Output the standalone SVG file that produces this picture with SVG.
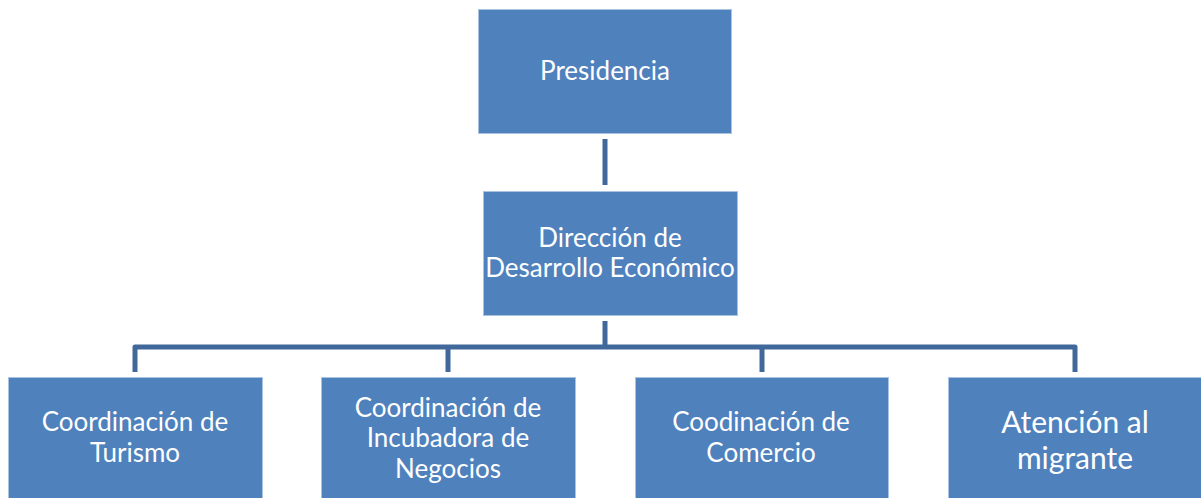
<svg xmlns="http://www.w3.org/2000/svg" width="1201" height="498" viewBox="0 0 1201 498">
<style>
.box{fill:#4F81BD;stroke:#A9C3E3;stroke-width:1}
.t{fill:#FFFFFF;font-family:Lato,"Open Sans","Liberation Sans",sans-serif;font-size:26px;text-anchor:middle}
.big{font-size:30px}
.c{fill:none;stroke:#41689A;stroke-width:5;stroke-linejoin:round}
</style>
<rect width="1201" height="498" fill="#FFFFFF"/>
<g id="connectors">
<line class="c" x1="605" y1="139" x2="605" y2="185"/>
<line class="c" x1="605" y1="321" x2="605" y2="347"/>
<polyline class="c" points="135,372 135,347 1075,347 1075,372"/>
<line class="c" x1="448" y1="347" x2="448" y2="372"/>
<line class="c" x1="762" y1="347" x2="762" y2="372"/>
</g>
<g id="presidencia">
<rect class="box" x="478.5" y="9.5" width="253" height="124"/>
<text class="t" x="605" y="80">Presidencia</text>
</g>
<g id="direccion">
<rect class="box" x="483.5" y="191.5" width="254" height="124"/>
<text class="t" x="610" y="247">Dirección de</text>
<text class="t" x="610" y="277">Desarrollo Económico</text>
</g>
<g id="turismo">
<rect class="box" x="8.5" y="377.5" width="254" height="125"/>
<text class="t" x="135" y="431">Coordinación de</text>
<text class="t" x="135" y="462">Turismo</text>
</g>
<g id="incubadora">
<rect class="box" x="321.5" y="377.5" width="254" height="125"/>
<text class="t" x="448" y="417">Coordinación de</text>
<text class="t" x="448" y="447">Incubadora de</text>
<text class="t" x="448" y="478">Negocios</text>
</g>
<g id="comercio">
<rect class="box" x="635.5" y="377.5" width="253" height="125"/>
<text class="t" x="761" y="431">Coodinación de</text>
<text class="t" x="761" y="462">Comercio</text>
</g>
<g id="migrante">
<rect class="box" x="948.5" y="377.5" width="256" height="125"/>
<text class="t big" x="1075" y="433">Atención al</text>
<text class="t big" x="1075" y="469">migrante</text>
</g>
</svg>
